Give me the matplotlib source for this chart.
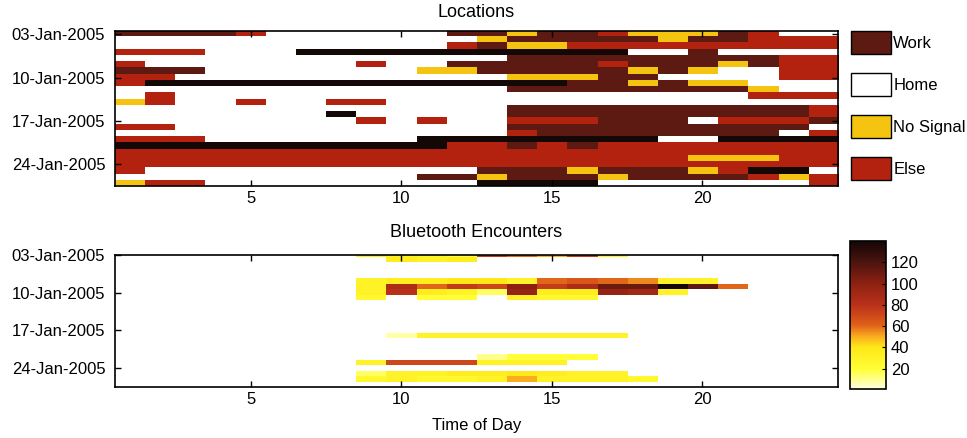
import numpy as np
import matplotlib
matplotlib.use("Agg")
import matplotlib.pyplot as plt
from matplotlib.colors import ListedColormap, BoundaryNorm, LinearSegmentedColormap
from matplotlib.patches import Patch

plt.rcParams['font.family'] = ['Liberation Sans', 'DejaVu Sans']

# ---- data ----
days = [f"{d:02d}-Jan-2005" for d in range(3, 28)]
hours = np.arange(1, 25)
tick_rows = [0, 7, 14, 21]

# location codes: B = unlabeled (black), W = Work, H = Home, N = No Signal, E = Else
loc_rows = [
    "WWWWEHHHHHHWWNWWENNNWEHH",
    "HHHHHHHHHHHHNWWWWWNWWEEE",
    "HHHHHHHHHHHEWNNEEEEEEEEE",
    "EEEHHHBBBBBBBBBBBHHWHHHH",
    "HHHHHHHHHHHHHWWWWWWWWWEE",
    "EHHHHHHHEHHWWWWWEWWWNWEE",
    "WWWHHHHHHHNNWWWWWNWNHHEE",
    "EEHHHHHHHHHHHNNNWWHHHHEE",
    "EBBBBBBBBBBBBBBWWNWNNHHH",
    "HHHHHHHHHHHHHWWWWWWWWNHH",
    "HEHHHHHHHHHHHHHHHHHHHEEE",
    "NEHHEHHEEHHHHHHHHHHHHHHH",
    "HHHHHHHHHHHHHWWWWWWWWWWE",
    "HHHHHHHBHHHHHWWWWWWWWWWE",
    "HHHHHHHHEHEHHEEEWWWHEEEW",
    "EEHHHHHHHHHHHWWWWWWWWWWH",
    "HHHHHHHHHHHHHEWWWWWWWWHE",
    "EEEHHHHHHHBBBBBBBBHHBBBB",
    "BBBBBBBBBBBEEWEWEEEEEEEE",
    "EEEEEEEEEEEEEEEEEEEEEEEE",
    "EEEEEEEEEEEEEEEEEEENNNEE",
    "EEEEEEEEEEEEEEEEEEEEEEEE",
    "EHHHHHHHHHHHWWWNWWWNEBBH",
    "HHHHHHHHHHWWNWWWNWWWWENE",
    "NEEHHHHHHHHHBBBBHHHHHHHE",
]
loc_codes = "BWHNE"
loc_labels = ["Work", "Home", "No Signal", "Else"]
loc_colors = ["#140806", "#5c1a12", "#ffffff", "#f4c410", "#b3220f"]

# bluetooth encounters: {row: {hour: count}}
bt_counts = {
    0: {9: 35, 10: 35, 11: 30, 12: 20, 13: 75, 14: 60, 15: 50, 16: 75, 17: 30},
    1: {10: 35, 11: 30, 12: 35},
    5: {9: 30, 10: 35, 11: 35, 12: 40, 13: 40, 14: 30, 15: 60, 16: 65, 17: 60,
        18: 55, 19: 30, 20: 30},
    6: {9: 30, 10: 85, 11: 60, 12: 75, 13: 70, 14: 100, 15: 75, 16: 85, 17: 110,
        18: 110, 19: 140, 20: 115, 21: 60},
    7: {9: 30, 10: 80, 11: 35, 12: 30, 13: 15, 14: 95, 15: 35, 16: 35, 17: 95,
        18: 90, 19: 30},
    8: {9: 25, 11: 20, 12: 20, 14: 30, 15: 25, 16: 25},
    15: {10: 8, 11: 30, 12: 30, 13: 30, 14: 30, 15: 30, 16: 30, 17: 30},
    19: {13: 10, 14: 20, 15: 20, 16: 20},
    20: {9: 30, 10: 70, 11: 70, 12: 70, 13: 30, 14: 30, 15: 30},
    22: {9: 15, 10: 30, 11: 30, 12: 35, 13: 35, 14: 40, 15: 35, 16: 30, 17: 30},
    23: {9: 25, 10: 30, 11: 25, 12: 25, 13: 30, 14: 50, 15: 30, 16: 30, 17: 30,
         18: 25},
}

# ---- build grids ----
loc = np.array([[loc_codes.index(c) for c in r] for r in loc_rows])
bt = np.zeros((len(days), len(hours)))
for r, d in bt_counts.items():
    for h, v in d.items():
        bt[r, h - 1] = v

extent = [hours[0] - 0.5, hours[-1] + 0.5, len(days) + 0.5, 0.5]
rows = np.arange(1, len(days) + 1)

fig = plt.figure(figsize=(9.67, 4.38), dpi=100)
ax1 = fig.add_axes([0.1189, 0.5753, 0.7477, 0.3539])
ax2 = fig.add_axes([0.1189, 0.1164, 0.7477, 0.3014])
cax = fig.add_axes([0.879, 0.112, 0.037, 0.338])

cmap = ListedColormap(loc_colors)
norm = BoundaryNorm(np.arange(-0.5, 5.5), cmap.N)
ax1.imshow(loc, cmap=cmap, norm=norm, aspect='auto', extent=extent,
           interpolation='nearest')
ax1.set_title("Locations", fontsize=13, pad=10)

# white -> yellow -> orange -> brick red -> dark brown -> black
bt_cmap = LinearSegmentedColormap.from_list("bt", [
    (0.0, "#ffffe0"), (0.13, "#ffff38"), (0.28, "#ffe818"), (0.36, "#f8a820"),
    (0.43, "#e06018"), (0.57, "#b8301a"), (0.72, "#8a2012"), (0.86, "#4a140e"),
    (1.0, "#140606")])
bt_cmap.set_under("white")
im = ax2.imshow(bt, cmap=bt_cmap, vmin=1, vmax=140, aspect='auto',
                extent=extent, interpolation='nearest')
ax2.set_ylim(len(days) + 0.5, 1)
ax2.set_title("Bluetooth Encounters", fontsize=13, pad=13)
ax2.set_xlabel("Time of Day", fontsize=12, labelpad=8)

for ax in (ax1, ax2):
    ax.set_xticks([5, 10, 15, 20])
    ax.set_yticks(rows[tick_rows])
    ax.set_yticklabels([days[i] for i in tick_rows])
    ax.tick_params(direction='in', top=True, right=True, labelsize=12,
                   length=4, width=1)
    ax.tick_params(axis='y', pad=7)
    for s in ax.spines.values():
        s.set_linewidth(1.2)

cb = fig.colorbar(im, cax=cax, ticks=[20, 40, 60, 80, 100, 120])
cb.ax.tick_params(direction='in', labelsize=12, length=3)
cb.outline.set_linewidth(1.2)

handles = [Patch(facecolor=c, edgecolor='black', linewidth=1)
           for c in loc_colors[1:]]
fig.legend(handles, loc_labels, loc='upper left',
           bbox_to_anchor=(0.873, 0.945), frameon=False, fontsize=12,
           handlelength=2.4, handleheight=1.8, handletextpad=0.15,
           labelspacing=1.1, borderaxespad=0)

fig.savefig("out.png", dpi=100)
